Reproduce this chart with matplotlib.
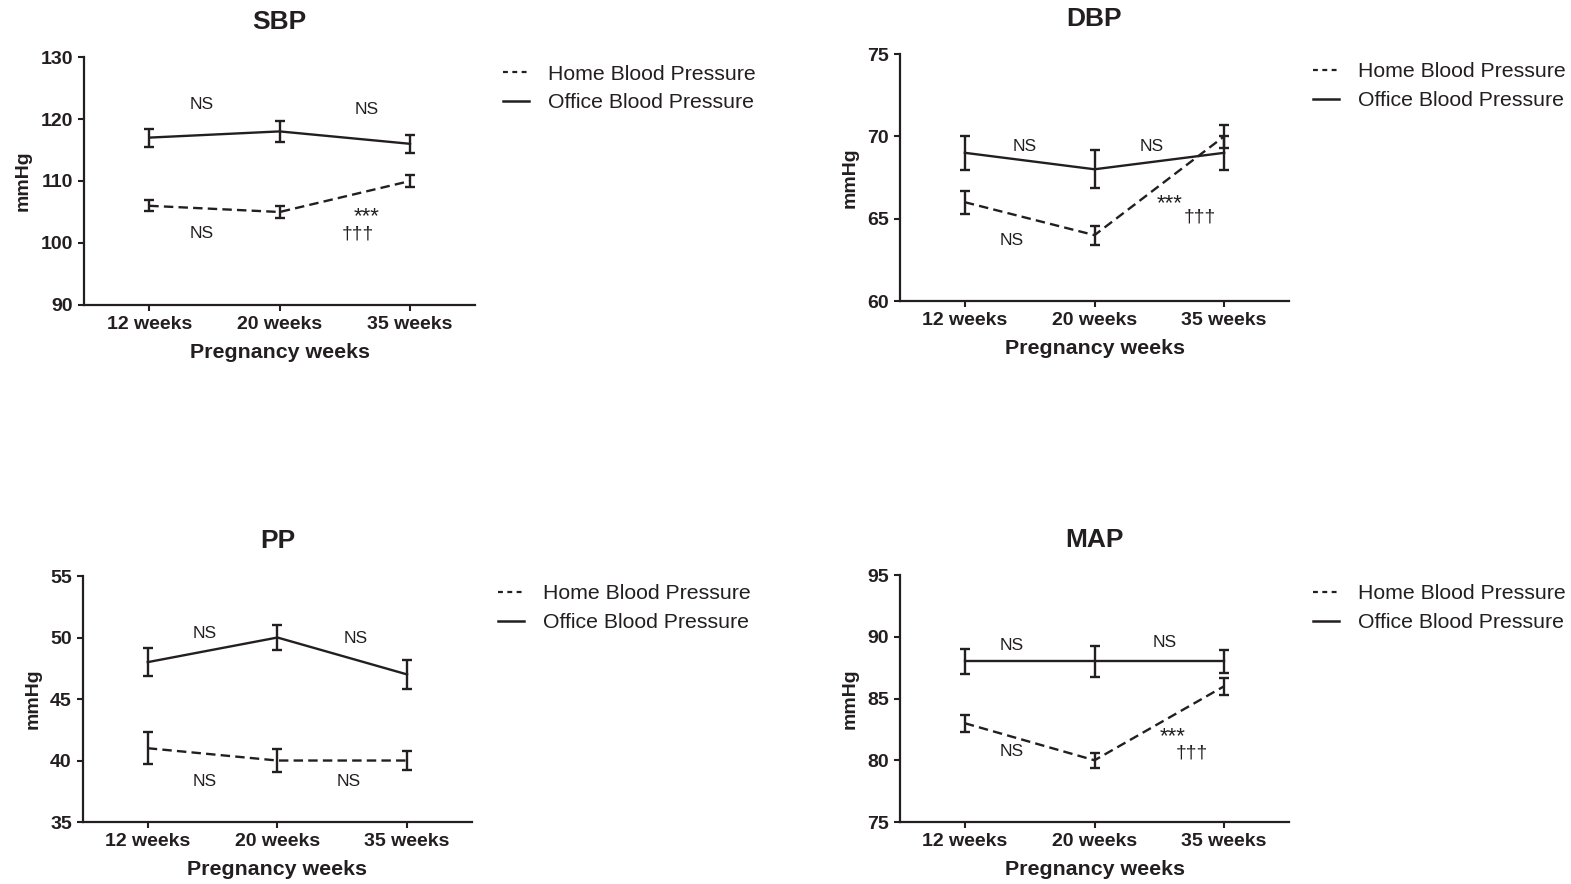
import matplotlib
matplotlib.use("Agg")
import matplotlib.pyplot as plt
from matplotlib.lines import Line2D

plt.rcParams['font.family'] = ['Liberation Sans', 'DejaVu Sans']

weeks = ["12 weeks", "20 weeks", "35 weeks"]
x = [0, 1, 2]

# SBP
sbp_office = [117, 118, 116]
sbp_office_err = [1.45, 1.7, 1.45]
sbp_home = [106, 105, 110]
sbp_home_err = [0.9, 0.95, 0.95]

# DBP
dbp_office = [69, 68, 69]
dbp_office_err = [1.05, 1.15, 1.05]
dbp_home = [66, 64, 70]
dbp_home_err = [0.7, 0.58, 0.7]

# PP
pp_office = [48, 50, 47]
pp_office_err = [1.15, 1.05, 1.15]
pp_home = [41, 40, 40]
pp_home_err = [1.3, 0.92, 0.8]

# MAP
map_office = [88, 88, 88]
map_office_err = [1.04, 1.25, 0.93]
map_home = [83, 80, 86]
map_home_err = [0.7, 0.6, 0.7]

col = "#231f20"

fig = plt.figure(figsize=(15.71, 8.84), dpi=100)

panels = [
    # title, office, office_err, home, home_err, ylim, yticks, axes rect, legend anchor, annotations
    ("SBP", sbp_office, sbp_office_err, sbp_home, sbp_home_err, (90, 130), range(90, 131, 10),
     [0.0535, 0.655, 0.249, 0.2805], (0.3202, 0.927),
     [(0.4, 122.3, "NS"), (1.67, 121.5, "NS"), (0.4, 101.6, "NS"),
      (1.67, 104.2, "***"), (1.6, 101.4, "†††")]),
    ("DBP", dbp_office, dbp_office_err, dbp_home, dbp_home_err, (60, 75), range(60, 76, 5),
     [0.5729, 0.6595, 0.2476, 0.2794], (0.8358, 0.9293),
     [(0.46, 69.4, "NS"), (1.44, 69.4, "NS"), (0.36, 63.7, "NS"),
      (1.58, 65.9, "***"), (1.81, 65.1, "†††")]),
    ("PP", pp_office, pp_office_err, pp_home, pp_home_err, (35, 55), range(35, 56, 5),
     [0.0528, 0.0701, 0.2476, 0.2783], (0.317, 0.3389),
     [(0.44, 50.3, "NS"), (1.6, 49.9, "NS"), (0.44, 38.3, "NS"), (1.55, 38.3, "NS")]),
    ("MAP", map_office, map_office_err, map_home, map_home_err, (75, 95), range(75, 96, 5),
     [0.5729, 0.0701, 0.2476, 0.2794], (0.8358, 0.3389),
     [(0.36, 89.3, "NS"), (1.54, 89.5, "NS"), (0.36, 80.7, "NS"),
      (1.6, 81.9, "***"), (1.75, 80.6, "†††")]),
]

home_handle = Line2D([], [], color=col, lw=1.6, ls=(0, (2.2, 2.0)))
office_handle = Line2D([], [], color=col, lw=1.8, ls="-")

for title, off, off_err, home, home_err, ylim, yticks, rect, leg_pos, notes in panels:
    ax = fig.add_axes(rect)
    ax.errorbar(x, home, yerr=home_err, color=col, lw=1.7, ls=(0, (4, 2.2)),
                capsize=3.5, capthick=1.7, elinewidth=1.7)
    ax.errorbar(x, off, yerr=off_err, color=col, lw=1.7, ls="-",
                capsize=3.5, capthick=1.7, elinewidth=1.7)
    ax.set_xlim(-0.5, 2.5)
    ax.set_ylim(*ylim)
    ax.set_yticks(list(yticks))
    ax.set_xticks(x)
    ax.set_xticklabels(weeks)
    for s in ["top", "right"]:
        ax.spines[s].set_visible(False)
    for s in ["left", "bottom"]:
        ax.spines[s].set_linewidth(1.6)
        ax.spines[s].set_color(col)
    ax.tick_params(direction="out", length=4.5, width=1.5, color=col, labelcolor=col,
                   labelsize=14, pad=3.5)
    for lab in ax.get_xticklabels() + ax.get_yticklabels():
        lab.set_fontweight("bold")
    ax.set_xlabel("Pregnancy weeks", fontsize=15.4, fontweight="bold", color=col, labelpad=7)
    ax.set_ylabel("mmHg", fontsize=14, fontweight="bold", color=col, labelpad=6)
    ax.set_title(title, fontsize=19, fontweight="bold", color=col, pad=20.5)
    for tx, ty, t in notes:
        fs = 12.5 if t == "NS" else (16 if t == "***" else 14)
        ax.text(tx, ty, t, fontsize=fs, color=col, ha="center", va="center")
    leg = ax.legend(handles=[home_handle, office_handle],
                    labels=["Home Blood Pressure", "Office Blood Pressure"],
                    loc="upper left", bbox_to_anchor=leg_pos,
                    bbox_transform=fig.transFigure, frameon=False, fontsize=15.3,
                    handlelength=1.2, handletextpad=0.9, labelspacing=0.45,
                    borderpad=0, borderaxespad=0)
    for t in leg.get_texts():
        t.set_color(col)

fig.savefig("out.png", dpi=100)
